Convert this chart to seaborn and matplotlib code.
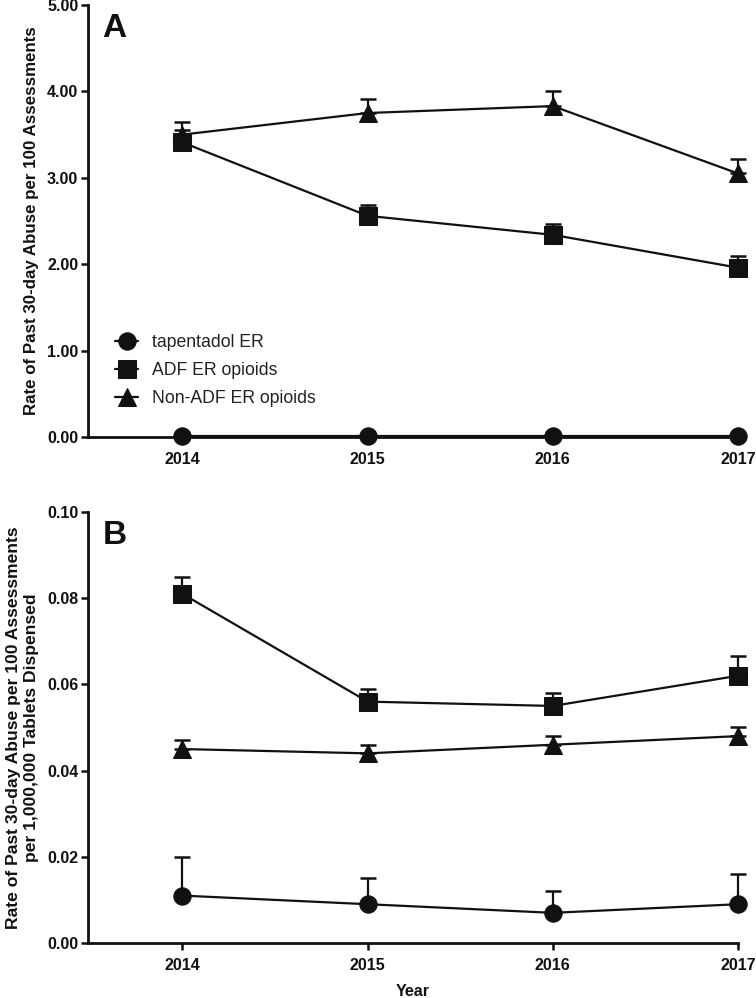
import numpy as np
import pandas as pd
import matplotlib
matplotlib.use('Agg')
import matplotlib.pyplot as plt
import seaborn as sns

# datos
years = [2014, 2015, 2016, 2017]
groups = ['tapentadol ER', 'ADF ER opioids', 'Non-ADF ER opioids']
marker_map = {'tapentadol ER': 'o', 'ADF ER opioids': 's', 'Non-ADF ER opioids': '^'}

# Panel A: tasa por 100 evaluaciones (media y limite superior de error)
a_tap = [0.01, 0.01, 0.01, 0.01]
a_tap_hi = [0.02, 0.02, 0.02, 0.02]
a_adf = [3.41, 2.56, 2.34, 1.96]
a_adf_hi = [3.55, 2.68, 2.47, 2.09]
a_non = [3.50, 3.75, 3.83, 3.05]
a_non_hi = [3.65, 3.91, 4.01, 3.22]

# Panel B: tasa por 100 evaluaciones por 1,000,000 tabletas
b_tap = [0.011, 0.009, 0.007, 0.009]
b_tap_hi = [0.020, 0.015, 0.012, 0.016]
b_adf = [0.081, 0.056, 0.055, 0.062]
b_adf_hi = [0.085, 0.059, 0.058, 0.0665]
b_non = [0.045, 0.044, 0.046, 0.048]
b_non_hi = [0.047, 0.046, 0.048, 0.050]

sns.set_style('ticks')
plt.rcParams['font.family'] = ['Liberation Sans', 'DejaVu Sans']

INK = '#111111'


def to_long(tap, adf, non):
    rows = []
    for g, vals in zip(groups, [tap, adf, non]):
        for y, v in zip(years, vals):
            rows.append({'year': y, 'rate': v, 'group': g})
    return pd.DataFrame(rows)


def draw_panel(ax, means, highs, ylim, yticks, ylabel, ylsize, letter, legend):
    df = to_long(*means)
    for m, h in zip(means, highs):
        m = np.array(m)
        h = np.array(h)
        ax.errorbar(years, m, yerr=[np.zeros_like(m), h - m], fmt='none',
                    ecolor=INK, elinewidth=1.6, capsize=6, capthick=1.8,
                    clip_on=False, zorder=2)
    sns.lineplot(data=df, x='year', y='rate', style='group', style_order=groups,
                 markers=marker_map, dashes=False, color=INK,
                 markersize=12.5, linewidth=1.6, markeredgecolor=INK,
                 clip_on=False, ax=ax, legend=legend, zorder=3)
    ax.set_xlim(2013.49, 2017)
    ax.set_ylim(*ylim)
    ax.set_xticks(years)
    ax.set_xticklabels([str(y) for y in years])
    ax.set_yticks(yticks)
    ax.set_yticklabels(['%.2f' % t for t in yticks])
    for lab in ax.get_xticklabels() + ax.get_yticklabels():
        lab.set_fontweight('bold')
        lab.set_fontsize(11.5)
    ax.tick_params(direction='out', length=5, width=1.8, color=INK,
                   labelcolor=INK)
    ax.tick_params(axis='x', pad=6)
    ax.tick_params(axis='y', pad=2)
    for s in ['left', 'bottom']:
        ax.spines[s].set_linewidth(2.0)
        ax.spines[s].set_color(INK)
    sns.despine(ax=ax)
    ax.set_ylabel(ylabel, fontsize=ylsize, fontweight='bold', color=INK,
                  labelpad=6)
    ax.text(0.022, 0.982, letter, transform=ax.transAxes, ha='left', va='top',
            fontsize=24, fontweight='bold', color=INK)


fig = plt.figure(figsize=(7.56, 9.98), dpi=100)
axA = fig.add_axes([0.1164, 0.5621, 0.8598, 0.4329])
axB = fig.add_axes([0.1164, 0.0551, 0.8598, 0.4319])

draw_panel(axA, [a_tap, a_adf, a_non], [a_tap_hi, a_adf_hi, a_non_hi],
           (0, 5), [0, 1, 2, 3, 4, 5],
           'Rate of Past 30-day Abuse per 100 Assessments', 12.2, 'A', True)
axA.set_xlabel('')

handles, labels = axA.get_legend_handles_labels()
hl = [(h, l) for h, l in zip(handles, labels) if l in groups]
axA.legend([h for h, l in hl], [l for h, l in hl], loc='upper left',
           bbox_to_anchor=(0.031, 0.254), frameon=False, fontsize=12.7,
           handlelength=1.3, handletextpad=0.8, labelspacing=0.62,
           borderaxespad=0, labelcolor='#222222')

draw_panel(axB, [b_tap, b_adf, b_non], [b_tap_hi, b_adf_hi, b_non_hi],
           (0, 0.10), [0, 0.02, 0.04, 0.06, 0.08, 0.10],
           'Rate of Past 30-day Abuse per 100 Assessments\nper 1,000,000 Tablets Dispensed',
           12.6, 'B', False)
axB.set_xlabel('Year', fontsize=11.5, fontweight='bold', color=INK,
               labelpad=8)

fig.savefig('out.png', dpi=100)
